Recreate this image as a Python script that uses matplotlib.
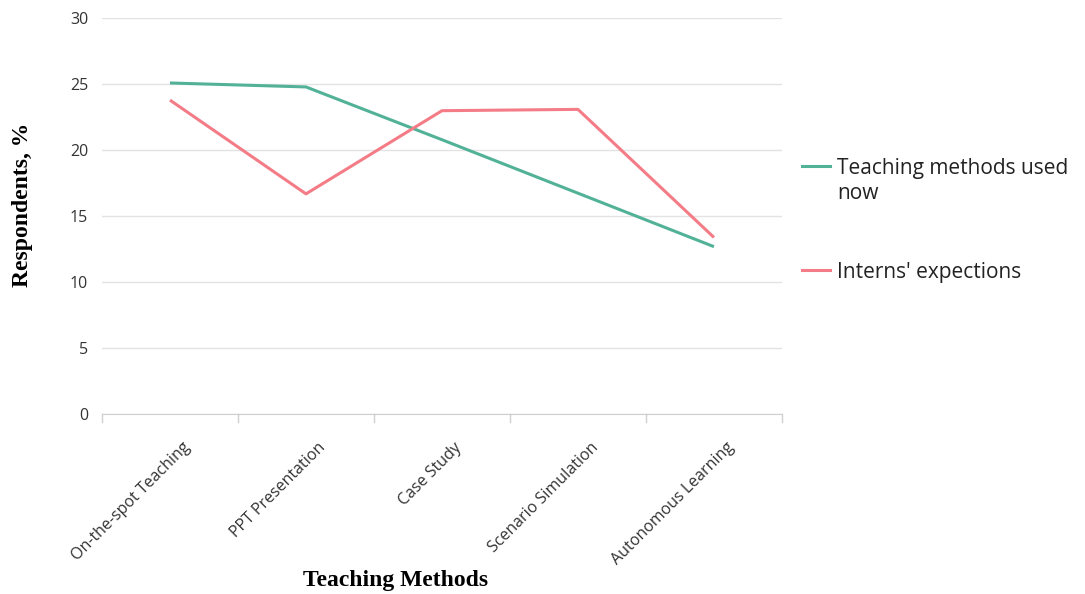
import matplotlib.pyplot as plt
import matplotlib.transforms as mtransforms
from matplotlib.lines import Line2D

methods = ["On-the-spot Teaching", "PPT Presentation", "Case Study",
           "Scenario Simulation", "Autonomous Learning"]
used_now = [25.1, 24.8, 20.8, 16.75, 12.7]
expected = [23.8, 16.7, 23.0, 23.1, 13.4]
series_names = ["Teaching methods used\nnow", "Interns' expections"]
colors = ["#52B297", "#F47C87"]

plt.rcParams['font.family'] = ['Open Sans', 'DejaVu Sans']

fig = plt.figure(figsize=(10.85, 5.94), dpi=100)
ax = fig.add_axes([0.094, 0.3025, 0.6267, 0.6667])

x = list(range(len(methods)))
ax.plot(x, used_now, color=colors[0], lw=2.2, solid_capstyle='butt')
ax.plot(x, expected, color=colors[1], lw=2.2, solid_capstyle='butt')

ax.set_xlim(-0.5, len(methods) - 0.5)
ax.set_ylim(0, 30)
ax.set_yticks(range(0, 31, 5))
ax.yaxis.grid(True, color="#E3E3E3", lw=1)
ax.set_axisbelow(True)
for s in ["top", "right", "left"]:
    ax.spines[s].set_visible(False)
ax.spines["bottom"].set_color("#D0D0D0")
ax.tick_params(axis='y', length=0, labelsize=11.5, colors="#333333", pad=10)

ax.set_xticks(x)
ax.set_xticklabels(methods, rotation=45, ha='right', rotation_mode='anchor',
                   fontsize=11.5, color="#333333")
ax.tick_params(axis='x', length=0, pad=18)
shift = mtransforms.ScaledTranslation(12 / 100, 0, fig.dpi_scale_trans)
for lab in ax.get_xticklabels():
    lab.set_transform(lab.get_transform() + shift)
# boundary ticks between categories
for b in [i - 0.5 for i in range(len(methods) + 1)]:
    ax.plot([b, b], [0, -0.6], color="#D0D0D0", lw=1, clip_on=False)

ax.set_ylabel("Respondents, %", family="Liberation Serif", fontweight="bold",
              fontsize=17)
ax.yaxis.set_label_coords(-0.102, 0.53)
ax.set_xlabel("Teaching Methods", family="Liberation Serif", fontweight="bold",
              fontsize=17)
ax.xaxis.set_label_coords((396 - 102) / 680, -0.392)

# legend drawn by hand
leg_y = [1 - 166 / 594, 1 - 270 / 594]
for name, c, yy in zip(series_names, colors, leg_y):
    fig.add_artist(Line2D([802 / 1085, 830 / 1085], [yy, yy], color=c, lw=2.2,
                          transform=fig.transFigure))
    fig.text(837 / 1085, yy + 8 / 594, name, fontsize=15, va='top',
             color="#222222", linespacing=1.25,
             transform=fig.transFigure)

fig.savefig("out.png", dpi=100)
